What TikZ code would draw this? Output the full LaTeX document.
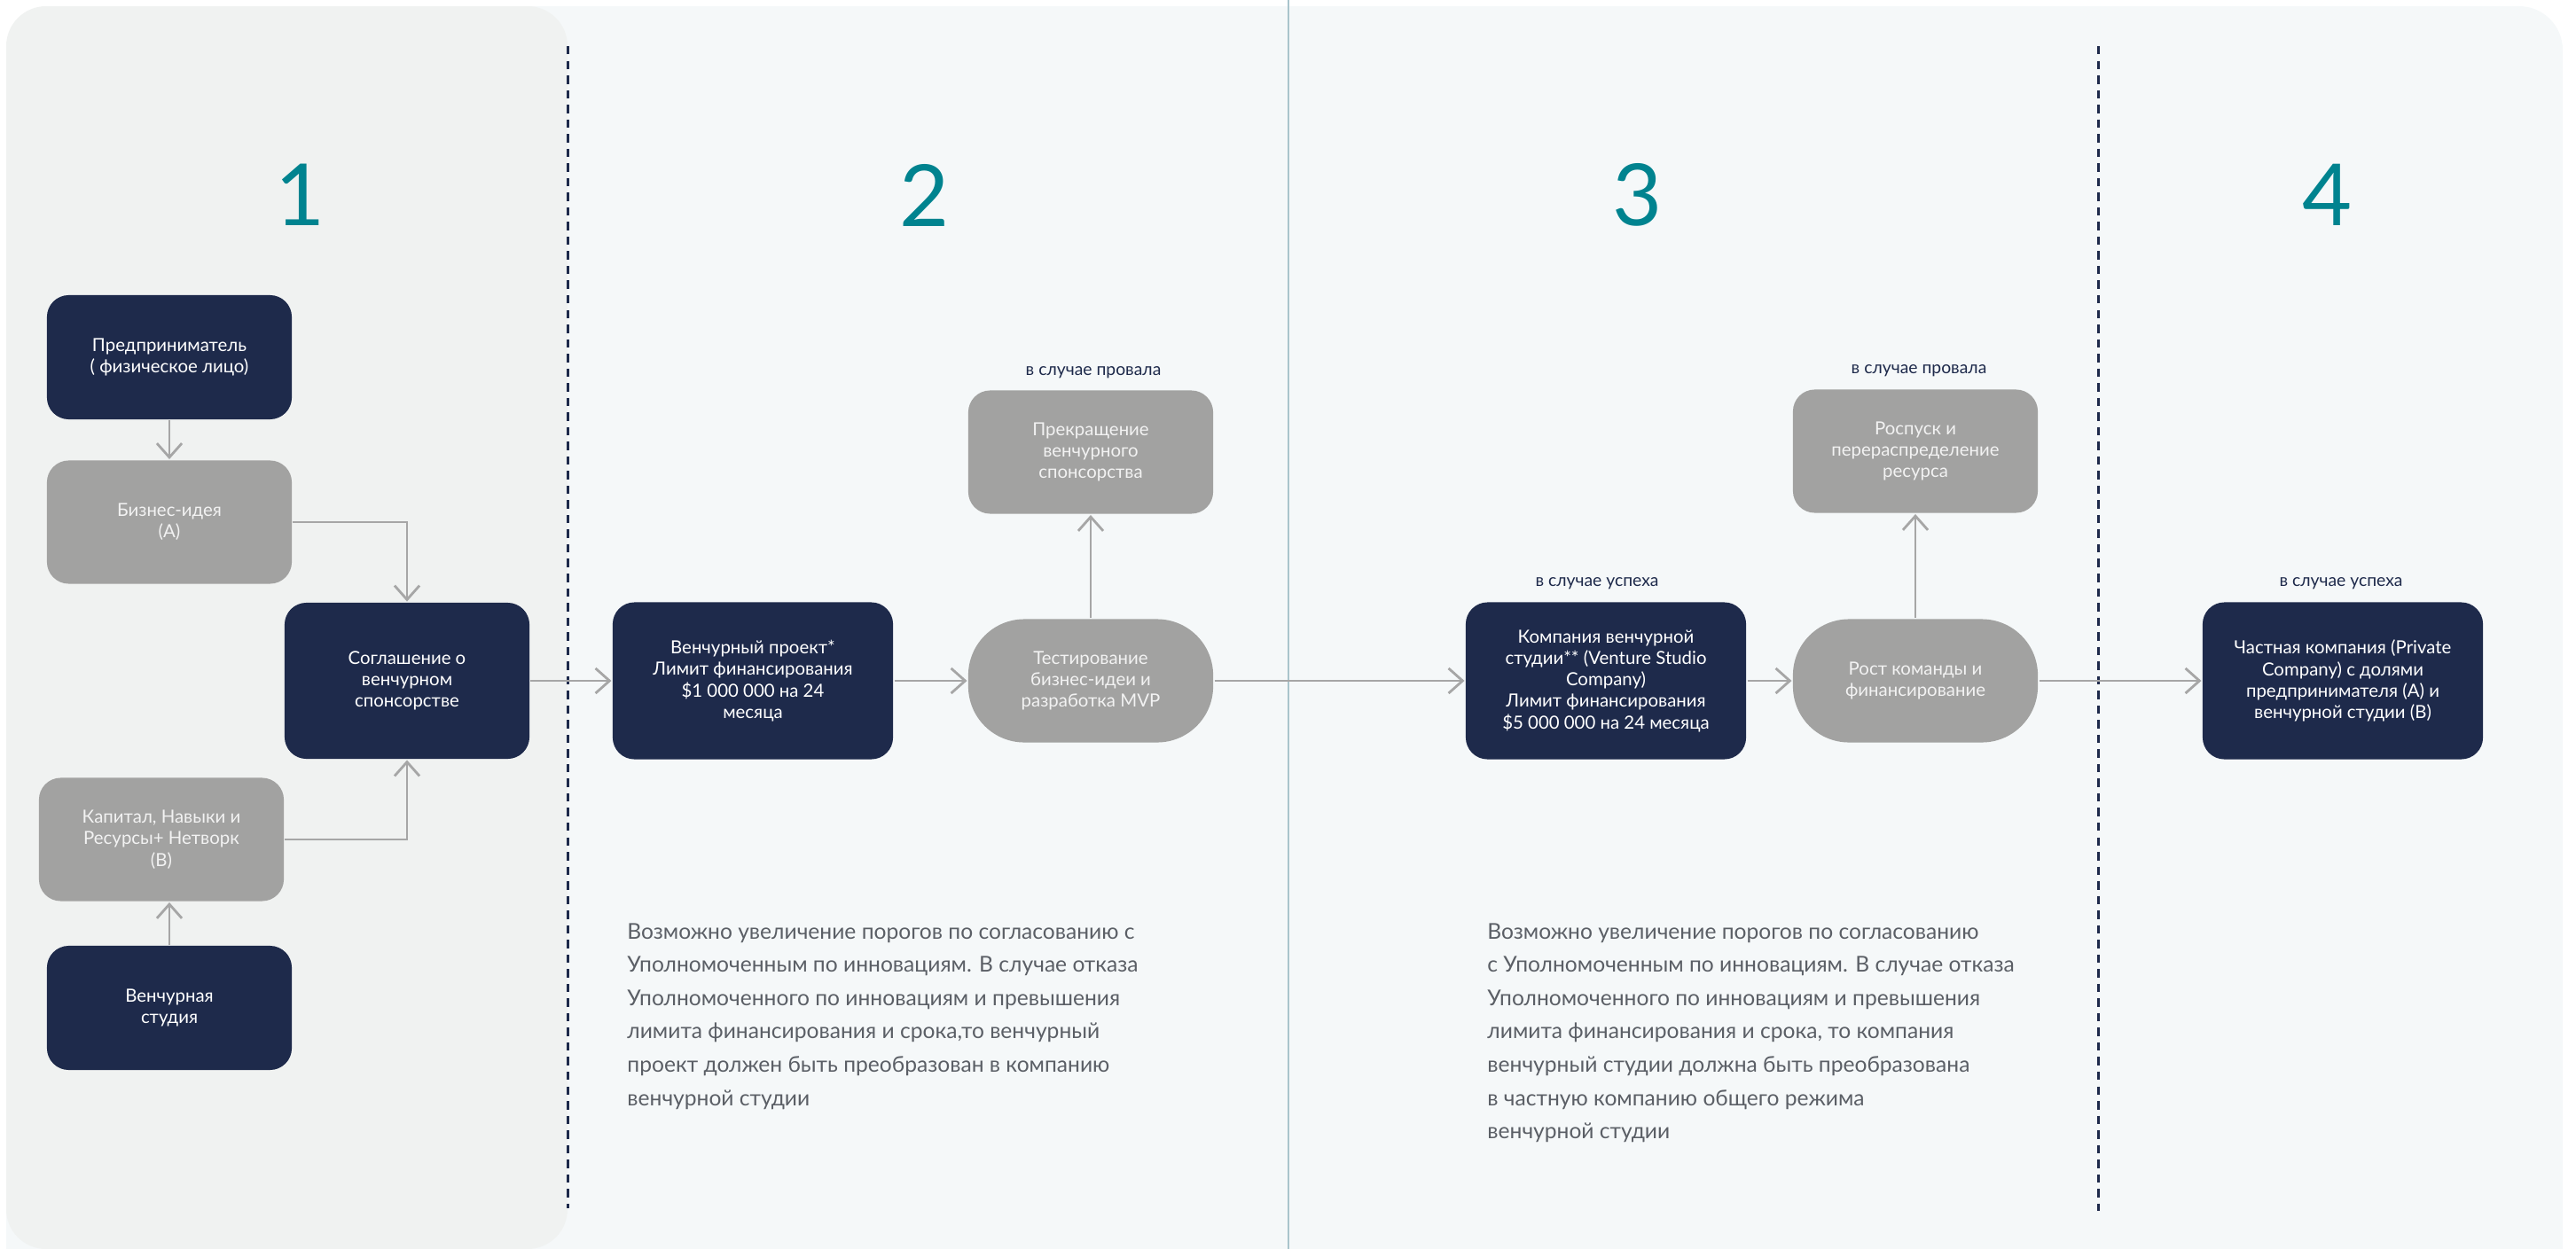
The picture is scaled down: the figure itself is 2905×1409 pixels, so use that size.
\documentclass[tikz,border=0pt]{standalone}
\usepackage{fontspec}
\setmainfont{Lato}
\usepackage{xcolor}
\usetikzlibrary{arrows.meta,positioning}

\definecolor{navybox}{HTML}{1E2A4B}
\definecolor{greybox}{HTML}{A2A2A1}
\definecolor{linkgrey}{HTML}{A6A6A6}
\definecolor{panelbg}{HTML}{F5F8F9}
\definecolor{stagebg}{HTML}{F0F2F1}
\definecolor{dividerblue}{HTML}{A9C4CC}
\definecolor{stageteal}{HTML}{00838F}
\definecolor{notegrey}{HTML}{5B5F66}

\begin{document}
\begin{tikzpicture}[x=0.01cm,y=-0.01cm,line width=0.8pt,
    box/.style={rounded corners=7pt,align=center,inner sep=0pt,font=\fontsize{5.8}{6.9}\selectfont},
    darkbox/.style={box,fill=navybox,text=white,minimum width=2.76cm,minimum height=1.4cm},
    widebox/.style={darkbox,minimum width=3.16cm,minimum height=1.77cm},
    greybox/.style={box,fill=greybox,text=white!95!black,minimum width=2.76cm,minimum height=1.39cm},
    pill/.style={greybox,rounded corners=18pt},
    note/.style={text=navybox,inner sep=0pt,font=\fontsize{5.5}{6.5}\selectfont},
    notetext/.style={text=notegrey,align=left,inner sep=0pt,anchor=north west,font=\fontsize{7}{10.7}\selectfont},
    stagenum/.style={text=stageteal,inner sep=0pt,font=\fontsize{27.5}{28}\selectfont},
    stageline/.style={draw=navybox,line width=0.85pt,dash pattern=on 2.7pt off 2pt},
    link/.style={draw=linkgrey,-{Straight Barb[length=4.5pt,width=8pt]}}]
  \useasboundingbox (0,0) rectangle (2905,1409);
  \clip (0,0) rectangle (2905,1409);
  % panels
  \fill[panelbg,rounded corners=14pt] (7,7) rectangle (2890,1460);
  \fill[stagebg,rounded corners=12.8pt] (7,7) rectangle (640,1409);
  \draw[dividerblue,line width=0.45pt] (1453,0) -- (1453,1409);
  \draw[stageline] (640,52) -- (640,1363);
  \draw[stageline] (2366,52) -- (2366,1366);

  % stage numbers
  \node[stagenum] (stageone) at (339,220) {1};
  \node[stagenum] (stagetwo) at (1043,220) {2};
  \node[stagenum] (stagethree) at (1847,220) {3};
  \node[stagenum] (stagefour) at (2625,220) {4};

  % stage 1
  \node[darkbox] (entrepreneur) at (191,403) {Предприниматель\\( физическое лицо)};
  \node[greybox] (idea) at (191,589) {Бизнес-идея\\(A)};
  \node[darkbox,minimum height=1.76cm] (agreement) at (459,768) {Соглашение о\\венчурном\\спонсорстве};
  \node[greybox] (capital) at (182,947) {Капитал, Навыки и\\Ресурсы+ Нетворк\\(B)};
  \node[darkbox] (studio) at (191,1137) {Венчурная\\студия};

  % stages 2--4
  \node[widebox] (project) at (849,768) {Венчурный проект*\\Лимит финансирования\\\$1 000 000 на 24\\месяца};
  \node[pill] (testing) at (1230,768) {Тестирование\\бизнес-идеи и\\разработка MVP};
  \node[greybox] (stop) at (1230,510) {Прекращение\\венчурного\\спонсорства};
  \node[widebox] (company) at (1811,768) {Компания венчурной\\студии** (Venture Studio\\Company)\\Лимит финансирования\\\$5 000 000 на 24 месяца};
  \node[pill] (growth) at (2160,768) {Рост команды и\\финансирование};
  \node[greybox] (dissolve) at (2160,509) {Роспуск и\\перераспределение\\ресурса};
  \node[widebox] (private) at (2642,768) {Частная компания (Private\\Company) с долями\\предпринимателя (A) и\\венчурной студии (B)};

  \node[note] (failtest) at (1233,420) {в случае провала};
  \node[note] (failgrowth) at (2164,418) {в случае провала};
  \node[note] (passproject) at (1801,658) {в случае успеха};
  \node[note] (passgrowth) at (2640,658) {в случае успеха};

  \node[notetext] (projectnote) at (706,1040) {Возможно увеличение порогов по согласованию с\\Уполномоченным по инновациям. В случае отказа\\Уполномоченного по инновациям и превышения\\лимита финансирования и срока,то венчурный\\проект должен быть преобразован в компанию\\венчурной студии};
  \node[notetext] (companynote) at (1676,1040) {Возможно увеличение порогов по согласованию\\с Уполномоченным по инновациям. В случае отказа\\Уполномоченного по инновациям и превышения\\лимита финансирования и срока, то компания\\венчурный студии должна быть преобразована\\в частную компанию общего режима\\венчурной студии};

  % connectors
  \draw[link] (entrepreneur) -- (idea);
  \draw[link] (idea.east) -| (agreement.north);
  \draw[link] (studio.north) -- (studio.north |- capital.south);
  \draw[link] (capital.east) -| (agreement.south);
  \draw[link] (agreement) -- (project);
  \draw[link] (project) -- (testing);
  \draw[link] (testing) -- (stop);
  \draw[link] (testing) -- (company);
  \draw[link] (company) -- (growth);
  \draw[link] (growth) -- (dissolve);
  \draw[link] (growth) -- (private);
\end{tikzpicture}
\end{document}
